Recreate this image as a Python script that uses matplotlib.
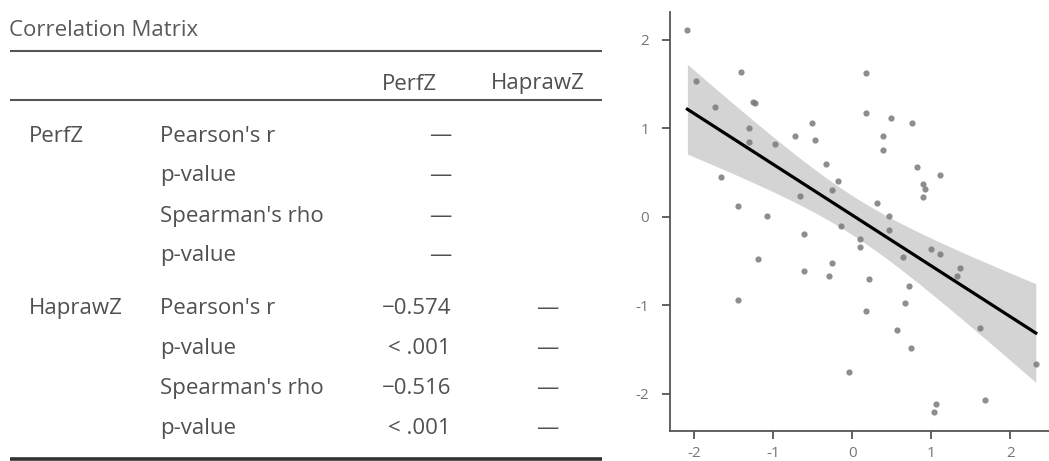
import numpy as np
import matplotlib
matplotlib.use("Agg")
import matplotlib.pyplot as plt
from matplotlib.lines import Line2D

# ---------------- data ----------------
table_title = "Correlation Matrix"
col_headers = ["PerfZ", "HaprawZ"]
row_vars = ["PerfZ", "HaprawZ"]
stat_labels = ["Pearson's r", "p-value", "Spearman's rho", "p-value"]
col_perfz = [["—", "—", "—", "—"],
             ["\u22120.574", "< .001", "\u22120.516", "< .001"]]
col_hapraw = [["", "", "", ""],
              ["—", "—", "—", "—"]]

x_vals = [-2.085, -1.975, -1.41, -1.73, -1.25, -1.23, -1.30, -1.30, -0.975, -0.725,
          -0.506, -0.477, -0.333, -0.186, -0.26, -0.66, -1.66, -1.44, -1.08, 0.17,
          0.17, 0.49, 0.75, 0.39, 0.39, 0.82, 1.105, 0.89, 0.925, 0.89,
          0.31, 0.46, -0.14, -0.615, -1.19, -0.615, -0.26, -0.295, -1.44, -0.04,
          0.46, 0.10, 0.10, 0.64, 1.0, 1.105, 1.367, 1.325, 0.21, 0.713,
          0.67, 0.177, 0.565, 0.747, 1.61, 2.32, 1.063, 1.03, 1.675]
y_vals = [2.11, 1.53, 1.64, 1.24, 1.30, 1.29, 1.00, 0.84, 0.82, 0.915,
          1.06, 0.87, 0.60, 0.40, 0.30, 0.23, 0.45, 0.12, 0.01, 1.62,
          1.17, 1.11, 1.06, 0.91, 0.757, 0.557, 0.47, 0.365, 0.316, 0.226,
          0.16, 0.01, -0.10, -0.19, -0.475, -0.61, -0.52, -0.675, -0.94, -1.75,
          -0.147, -0.25, -0.34, -0.455, -0.365, -0.425, -0.58, -0.667, -0.70, -0.787,
          -0.98, -1.066, -1.285, -1.48, -1.26, -1.66, -2.116, -2.21, -2.075]
x_ticks = [-2, -1, 0, 1, 2]
y_ticks = [-2, -1, 0, 1, 2]

# ---------------- figure ----------------
W, H = 1049, 461
plt.rcParams['font.family'] = ['Open Sans', 'DejaVu Sans']
plt.rcParams['axes.unicode_minus'] = False
fig = plt.figure(figsize=(W / 100, H / 100), dpi=100)
fig.patch.set_facecolor('white')

def fx(px):
    return px / W

def fy(py):
    return 1 - py / H

txt_color = '#505050'
fs = 16

# table
fig.text(fx(9), fy(31), table_title, fontsize=fs, color='#5a5a5a', va='center', ha='left')

def hrule(py, lw, color):
    fig.add_artist(Line2D([fx(10), fx(602)], [fy(py), fy(py)], lw=lw, color=color,
                          transform=fig.transFigure, solid_capstyle='butt'))

hrule(51.5, 1.5, '#555555')
hrule(100, 1.5, '#555555')
hrule(459, 2.6, '#333333')

fig.text(fx(437), fy(84), col_headers[0], fontsize=fs, color=txt_color, va='center', ha='right')
fig.text(fx(585), fy(84), col_headers[1], fontsize=fs, color=txt_color, va='center', ha='right')

row_y = [[136, 176, 216, 256], [308, 348, 388, 428]]
for g, var in enumerate(row_vars):
    fig.text(fx(29), fy(row_y[g][0]), var, fontsize=fs, color=txt_color, va='center', ha='left')
    for i, lab in enumerate(stat_labels):
        yy = fy(row_y[g][i])
        fig.text(fx(160), yy, lab, fontsize=fs, color=txt_color, va='center', ha='left')
        fig.text(fx(451), yy, col_perfz[g][i], fontsize=fs, color=txt_color, va='center', ha='right')
        if col_hapraw[g][i]:
            fig.text(fx(558), yy, col_hapraw[g][i], fontsize=fs, color=txt_color, va='center', ha='right')

# scatter plot
ax = fig.add_axes([670 / W, (H - 431) / H, (W - 670) / W, 419 / H])
x = np.array(x_vals)
y = np.array(y_vals)
n = len(x)
b1, b0 = np.polyfit(x, y, 1)
xs = np.linspace(x.min(), x.max(), 100)
yhat = b0 + b1 * xs
resid = y - (b0 + b1 * x)
s = np.sqrt(np.sum(resid ** 2) / (n - 2))
sxx = np.sum((x - x.mean()) ** 2)
se = s * np.sqrt(1 / n + (xs - x.mean()) ** 2 / sxx)
tval = 2.003
ax.fill_between(xs, yhat - tval * se, yhat + tval * se, color='#d4d4d4', lw=0, zorder=1)
ax.scatter(x, y, s=20, color='#7a7a7a', alpha=0.85, lw=0, zorder=2)
ax.plot(xs, yhat, color='black', lw=2.3, zorder=3)

ax.set_xlim(-2.305, 2.487)
ax.set_ylim(-2.421, 2.313)
ax.set_xticks(x_ticks)
ax.set_yticks(y_ticks)
ax.set_xticklabels([str(t) for t in x_ticks])
ax.set_yticklabels([str(t) for t in y_ticks])
for side in ['top', 'right']:
    ax.spines[side].set_visible(False)
for side in ['left', 'bottom']:
    ax.spines[side].set_color('#555555')
    ax.spines[side].set_linewidth(1.3)
ax.tick_params(axis='both', direction='out', length=6, width=1.3, color='#555555',
               labelsize=11, labelcolor='#777777')
ax.tick_params(axis='y', pad=9)
ax.tick_params(axis='x', pad=5)
ax.set_facecolor('white')

fig.savefig('out.png', dpi=100, facecolor='white')
